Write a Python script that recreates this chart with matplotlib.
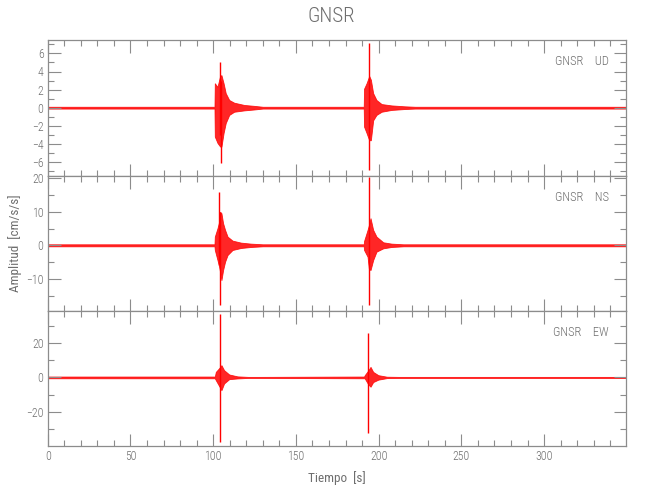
import matplotlib
matplotlib.use("Agg")
import matplotlib.pyplot as plt
from matplotlib import font_manager
from matplotlib.font_manager import FontProperties
from matplotlib.ticker import MultipleLocator

# envelope of each trace: time [s], upper and lower amplitude [cm/s/s]
ud_t = [0, 100.8, 101.0, 102.6, 104.2, 105.0, 106.3, 107.6, 109.7, 112.7, 118.8, 124.8, 130,
        191.0, 191.2, 192.7, 194.3, 195.3, 196.7, 198.7, 201.8, 207.8, 215.8, 222, 349.5]
ud_hi = [0.1, 0.1, 2.7, 2.3, 3.5, 3.6, 2.7, 1.6, 0.85, 0.55, 0.3, 0.2, 0.1,
         0.1, 2.1, 2.7, 3.5, 3.1, 1.6, 0.85, 0.4, 0.25, 0.15, 0.1, 0.1]
ud_lo = [-0.1, -0.1, -3.2, -3.9, -4.3, -4.3, -2.8, -1.7, -0.8, -0.45, -0.3, -0.2, -0.1,
         -0.1, -2.1, -2.8, -3.6, -3.6, -1.4, -0.8, -0.45, -0.25, -0.15, -0.1, -0.1]

ns_t = [0, 100.8, 101.0, 102.6, 103.6, 104.2, 105.0, 106.0, 107.2, 108.7, 111.7, 116.8, 122.8, 130,
        191.0, 191.2, 193.3, 194.1, 195.1, 196.7, 198.7, 202.8, 207.8, 215, 349.5]
ns_hi = [0.3, 0.3, 2.6, 5.1, 7.0, 10.0, 9.6, 6.6, 4.6, 2.6, 1.4, 0.8, 0.5, 0.3,
         0.3, 1.3, 4.6, 6.0, 8.1, 4.6, 2.6, 0.9, 0.5, 0.3, 0.3]
ns_lo = [-0.3, -0.3, -1.4, -4.4, -6.4, -8.0, -10.4, -7.4, -4.9, -2.9, -1.4, -0.8, -0.5, -0.3,
         -0.3, -1.4, -3.4, -7.0, -7.4, -4.4, -1.9, -0.9, -0.5, -0.3, -0.3]

ew_t = [0, 101.0, 101.6, 104.2, 105.0, 106.6, 109.7, 114.7, 121, 128,
        191.2, 191.6, 193.7, 195.1, 196.7, 199.8, 205, 212, 349.5]
ew_hi = [0.5, 0.5, 3.2, 6.0, 7.1, 4.2, 1.7, 0.6, 0.3, 0.3,
         0.5, 1.3, 4.0, 6.1, 3.2, 1.3, 0.4, 0.3, 0.3]
ew_lo = [-0.5, -0.5, -1.6, -6.0, -7.4, -3.5, -1.0, -0.6, -0.3, -0.3,
         -0.5, -0.6, -4.0, -5.4, -2.7, -1.3, -0.4, -0.3, -0.3]

# single peak spikes: time, max, min
ud_spk_t = [104.3, 104.6, 194.3]
ud_spk_hi = [5.1, 3.0, 7.1]
ud_spk_lo = [-3.0, -6.1, -6.9]

ns_spk_t = [103.6, 104.2, 194.1]
ns_spk_hi = [16.0, 10.0, 20.5]
ns_spk_lo = [-6.0, -17.9, -17.9]

ew_spk_t = [104.2, 193.7]
ew_spk_hi = [37.0, 25.5]
ew_spk_lo = [-37.3, -32.5]

components = ["UD", "NS", "EW"]
station = "GNSR"

GRAY = "#8c8c8c"
TXT = "#6e6e6e"


def pick_font():
    # the original uses a thin narrow vector font, take the narrowest we have
    names = {f.name for f in font_manager.fontManager.ttflist}
    for fam in ["Liberation Sans Narrow", "Roboto Condensed", "Open Sans Condensed"]:
        if fam in names:
            return fam, "normal"
    path = font_manager.findfont(FontProperties(family="DejaVu Sans", stretch="condensed"))
    if "Condensed" in path:
        return "DejaVu Sans", "condensed"
    return "DejaVu Sans", "normal"


fam, stretch = pick_font()
plt.rcParams["font.family"] = [fam, "DejaVu Sans"]
plt.rcParams["font.stretch"] = stretch
plt.rcParams["font.weight"] = "light"


def style_axis(ax, ylim, major, minor):
    ax.set_xlim(0, 349.5)
    ax.set_ylim(*ylim)
    ax.xaxis.set_major_locator(MultipleLocator(50))
    ax.xaxis.set_minor_locator(MultipleLocator(10))
    ax.yaxis.set_major_locator(MultipleLocator(major))
    ax.yaxis.set_minor_locator(MultipleLocator(minor))
    ax.tick_params(which="both", direction="in", top=True, right=True,
                   color=GRAY, labelcolor=TXT, labelsize=8.5, width=0.8, pad=3)
    ax.tick_params(which="major", length=9)
    ax.tick_params(which="minor", length=4.5)
    for s in ax.spines.values():
        s.set_color(GRAY)
        s.set_linewidth(0.9)


fig = plt.figure(figsize=(6.5, 5), dpi=100)

left, width = 47.7 / 650, (626 - 47.7) / 650
tops = [40.3, 175.7, 310.5]
h = 135.2 / 500

traces = [
    (ud_t, ud_hi, ud_lo, ud_spk_t, ud_spk_hi, ud_spk_lo, (-7.5, 7.45), 2, 1),
    (ns_t, ns_hi, ns_lo, ns_spk_t, ns_spk_hi, ns_spk_lo, (-19.6, 20.8), 10, 5),
    (ew_t, ew_hi, ew_lo, ew_spk_t, ew_spk_hi, ew_spk_lo, (-39.6, 38.8), 20, 10),
]

axes = []
for i, (t, hi, lo, st, shi, slo, ylim, major, minor) in enumerate(traces):
    ax = fig.add_axes([left, 1 - (tops[i] + 135.2) / 500, width, h])
    ax.fill_between(t, lo, hi, color="#ff0000", alpha=0.85, linewidth=0.6)
    ax.vlines(st, slo, shi, color="#ff0000", linewidth=1.0)
    style_axis(ax, ylim, major, minor)
    ax.text(0.97, 0.84, f"{station}    {components[i]}", transform=ax.transAxes,
            ha="right", va="center", fontsize=9, color=TXT)
    if i < 2:
        ax.tick_params(labelbottom=False)
    axes.append(ax)

axes[1].set_ylabel("Amplitud  [cm/s/s]", fontsize=9.5, color=TXT)
axes[1].yaxis.set_label_coords(-0.044, 0.5)
axes[2].set_xlabel("Tiempo  [s]", fontsize=9.5, color=TXT)
axes[2].xaxis.set_label_coords(0.5, -0.19)
fig.text(0.51, 0.966, station, ha="center", va="center", fontsize=15, color=TXT)

plt.savefig("out.png", dpi=100)
